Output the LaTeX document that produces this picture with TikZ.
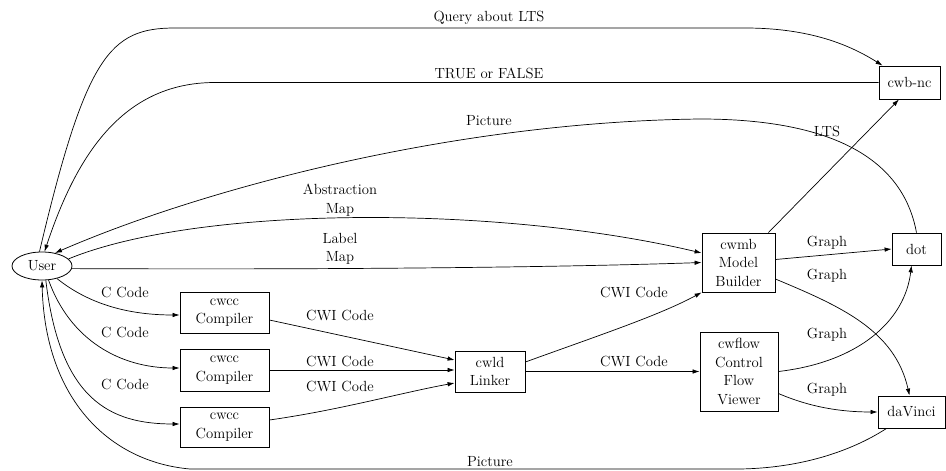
\documentclass[tikz,border=0pt]{standalone}
\usetikzlibrary{arrows.meta,shapes.geometric}
\begin{document}
\begin{tikzpicture}[x=1pt,y=-1pt,
  font=\fontsize{14.7}{18.5}\selectfont,
  box/.style={draw,line width=0.8pt,inner sep=0pt,align=center},
  lbl/.style={inner sep=0pt,align=center},
  conn/.style={line width=0.7pt,-{Latex[length=7pt,width=4.5pt]}},
  plainline/.style={line width=0.7pt}]
\useasboundingbox (0,0) rectangle (946,471);

% nodes
\node[draw,ellipse,line width=0.8pt,inner sep=0pt,minimum width=60pt,minimum height=28pt] (user) at (42,266) {User};
\node[box,minimum width=61pt,minimum height=33pt] (cwbnc) at (909.5,82.5) {cwb-nc};
\node[box,minimum width=49pt,minimum height=32pt] (dot) at (916.5,249) {dot};
\node[box,minimum width=67pt,minimum height=32pt] (davinci) at (911.5,412) {daVinci};
\node[box,minimum width=73pt,minimum height=59pt] (cwmb) at (738.5,262.5) {cwmb\\Model\\Builder};
\node[box,minimum width=78pt,minimum height=79pt] (cwflow) at (739,371.5) {cwflow\\Control\\Flow\\Viewer};
\node[box,minimum width=70pt,minimum height=41pt] (cwld) at (490,371.5) {cwld\\Linker};
\node[box,minimum width=89pt,minimum height=41pt] (cc1) at (224.5,312.5) {cwcc\\Compiler};
\node[box,minimum width=89pt,minimum height=42pt] (cc2) at (224.5,370) {cwcc\\Compiler};
\node[box,minimum width=89pt,minimum height=40pt] (cc3) at (224.5,427) {cwcc\\Compiler};

% top connectors
\draw[conn] (user.100) .. controls (86,55) and (110,28) .. (175,28) -- (745,28)
  .. controls (810,28) and (850,45) .. ([xshift=4pt]cwbnc.north west);
\node[lbl] (qlbl) at (489,18) {Query about LTS};

\draw[conn] (cwbnc.west) -- (215,82.5) .. controls (120,82.5) and (75,160) .. (user.80);
\node[lbl] (tlbl) at (489,73) {TRUE or FALSE};

\draw[conn] (dot.north) .. controls (905,170) and (850,119) .. (700,119)
  .. controls (450,122) and (200,190) .. (user.45);
\node[lbl] (plbl) at (489,121) {Picture};

\draw[conn] (user.15) .. controls (200,205) and (500,205) .. ([yshift=9.5pt]cwmb.west);
\node[lbl] (amlbl) at (340,200) {Abstraction\\Map};

\draw[conn] (user.-5) .. controls (400,270) and (600,266) .. (cwmb.west);
\node[lbl] (lmlbl) at (340,249) {Label\\Map};

% LTS
\draw[conn] ([xshift=-7pt]cwmb.north east) -- ([xshift=-10.5pt]cwbnc.south);
\node[lbl] (ltslbl) at (827,131) {LTS};

% graphs
\draw[conn] ([yshift=3pt]cwmb.east) -- (dot.west);
\node[lbl] (g1) at (827,243) {Graph};
\draw[conn] ([yshift=-16.5pt]cwmb.east) .. controls (840,306) and (895,330) .. ([xshift=-2pt]davinci.north);
\node[lbl] (g2) at (827,276) {Graph};
\draw[conn] (cwflow.east) .. controls (860,362) and (905,320) .. ([xshift=-5pt]dot.south);
\node[lbl] (g3) at (827,335) {Graph};
\draw[conn] ([yshift=-22pt]cwflow.east) .. controls (810,407) and (840,412) .. (davinci.west);
\node[lbl] (g4) at (827,390) {Graph};

% bottom picture
\draw[conn] ([xshift=9pt]davinci.south west) .. controls (850,452) and (800,468) .. (740,469)
  -- (190,469) .. controls (110,462) and (45,400) .. (user.south);
\node[lbl] (pblbl) at (490,462) {Picture};

% C code
\draw[conn] (user.-40) .. controls (90,305) and (130,315) .. ([yshift=-2.5pt]cc1.west);
\node[lbl] (c1) at (125,292) {C Code};
\draw[conn] (user.-65) .. controls (70,340) and (120,368) .. ([yshift=2pt]cc2.west);
\node[lbl] (c2) at (125,332) {C Code};
\draw[conn] (user.-75) .. controls (60,400) and (110,424) .. ([yshift=3pt]cc3.west);
\node[lbl] (c3) at (125,384) {C Code};

% CWI code
\draw[conn] ([yshift=-7.5pt]cc1.east) -- ([yshift=11.5pt]cwld.west);
\node[lbl] (w1) at (340,315) {CWI Code};
\draw[conn] (cc2.east) -- (cc2.east -| cwld.west);
\node[lbl] (w2) at (340,361) {CWI Code};
\draw[conn] ([yshift=7pt]cc3.east) .. controls (340,410) and (400,393) .. ([yshift=-11.5pt]cwld.west);
\node[lbl] (w3) at (340,386) {CWI Code};

\draw[conn] ([yshift=9.5pt]cwld.east) .. controls (600,335) and (660,315) .. (cwmb.south west);
\node[lbl] (w4) at (634,292) {CWI Code};
\draw[conn] (cwld.east) -- (cwflow.west);
\node[lbl] (w5) at (634,361) {CWI Code};
\end{tikzpicture}
\end{document}
